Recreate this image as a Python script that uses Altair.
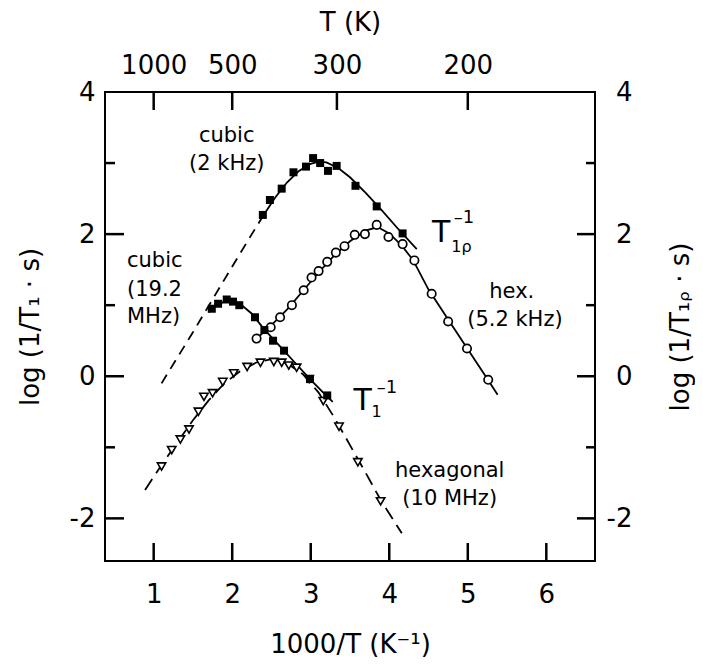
import altair as alt
import pandas as pd

# ---------------- data ----------------
# cubic phase, T1rho^-1 (2 kHz): filled squares
cub_rho_x = [2.39, 2.48, 2.63, 2.78, 2.94, 3.03, 3.12, 3.22, 3.33, 3.57, 3.84, 4.17]
cub_rho_y = [2.27, 2.48, 2.64, 2.87, 2.95, 3.07, 3.00, 2.89, 2.96, 2.68, 2.39, 2.01]
# hexagonal phase, T1rho^-1 (5.2 kHz): open circles
hex_rho_x = [2.31, 2.49, 2.61, 2.76, 2.91, 3.01, 3.10, 3.21, 3.32, 3.43, 3.56, 3.69,
             3.84, 3.99, 4.17, 4.32, 4.54, 4.75, 4.99, 5.26]
hex_rho_y = [0.53, 0.69, 0.83, 1.00, 1.21, 1.39, 1.48, 1.61, 1.74, 1.83, 1.99, 2.00,
             2.13, 1.96, 1.86, 1.63, 1.16, 0.77, 0.39, -0.05]
# cubic phase, T1^-1 (19.2 MHz): filled squares
cub_t1_x = [1.74, 1.82, 1.93, 2.01, 2.09, 2.29, 2.41, 2.52, 2.66, 2.99, 3.21]
cub_t1_y = [0.95, 1.02, 1.08, 1.05, 1.00, 0.83, 0.65, 0.50, 0.36, -0.04, -0.27]
# hexagonal phase, T1^-1 (10 MHz): open down-triangles
hex_t1_x = [1.10, 1.23, 1.34, 1.45, 1.57, 1.64, 1.75, 1.88, 2.02, 2.19, 2.36, 2.53,
            2.63, 2.72, 2.82, 2.98, 3.16, 3.36, 3.60, 3.89]
hex_t1_y = [-1.27, -1.04, -0.89, -0.75, -0.50, -0.29, -0.24, -0.08, 0.04, 0.13, 0.19, 0.20,
            0.19, 0.15, 0.12, -0.04, -0.35, -0.71, -1.21, -1.76]

# fitted curves
fit_cub_rho_dash_x = [1.10, 1.50, 1.90, 2.20, 2.40]
fit_cub_rho_dash_y = [-0.10, 0.62, 1.36, 1.91, 2.27]
fit_cub_rho_x = [2.40, 2.55, 2.70, 2.85, 3.00, 3.10, 3.20, 3.35, 3.50, 3.70, 3.90, 4.10, 4.35]
fit_cub_rho_y = [2.27, 2.52, 2.73, 2.89, 2.99, 3.02, 3.01, 2.93, 2.80, 2.58, 2.34, 2.09, 1.79]
fit_hex_rho_x = [2.33, 2.50, 2.70, 2.90, 3.10, 3.30, 3.50, 3.70, 3.85, 4.00, 4.15, 4.30,
                 4.50, 4.75, 5.00, 5.25, 5.38]
fit_hex_rho_y = [0.55, 0.72, 0.94, 1.20, 1.46, 1.70, 1.90, 2.05, 2.10, 2.01, 1.85, 1.64,
                 1.22, 0.80, 0.38, -0.04, -0.26]
fit_cub_t1_x = [1.70, 1.80, 1.90, 2.00, 2.10, 2.25, 2.40, 2.60, 2.80, 3.00, 3.15, 3.28]
fit_cub_t1_y = [0.90, 1.00, 1.05, 1.06, 1.02, 0.88, 0.67, 0.43, 0.19, -0.05, -0.22, -0.36]
fit_hex_t1_x = [0.89, 1.10, 1.30, 1.50, 1.70, 1.90, 2.10, 2.30, 2.50, 2.70, 2.90, 3.10,
                3.30, 3.50, 3.70, 3.90, 4.16]
fit_hex_t1_y = [-1.60, -1.25, -0.93, -0.62, -0.34, -0.10, 0.07, 0.19, 0.24, 0.18, 0.03, -0.23,
                -0.58, -0.97, -1.36, -1.76, -2.21]

# axes
x_ticks = [1, 2, 3, 4, 5, 6]
top_T = [1000, 500, 300, 200]
y_major = [-2, 0, 2]
y_minor = [-1, 1, 3]
y_labels = [-2, 0, 2, 4]

# annotations
ann_c_text = ["cubic", "(2 kHz)", "hex.", "(5.2 kHz)", "hexagonal", "(10 MHz)"]
ann_c_x = [1.93, 1.93, 5.56, 5.60, 4.77, 4.77]
ann_c_y = [3.38, 2.98, 1.19, 0.79, -1.33, -1.73]
ann_l_text = ["cubic", "(19.2", "MHz)"]
ann_l_x = [0.66, 0.66, 0.66]
ann_l_y = [1.62, 1.21, 0.84]
big_T_x = [4.66, 3.66]
big_T_y = [2.01, -0.35]
sup_text = ["\u20131", "\u20131"]
sup_x = [4.95, 3.97]
sup_y = [2.22, -0.17]
sub_text = ["1\u03c1", "1"]
sub_x = [4.92, 3.84]
sub_y = [1.82, -0.50]

# ---------------- chart ----------------
W, H = 490, 469
FONT = "DejaVu Sans"
XD = [0.38, 6.62]
YD = [-2.6, 4.0]
xs = alt.Scale(domain=XD, nice=False, zero=False)
ys = alt.Scale(domain=YD, nice=False, zero=False)


def frame(xv, yv, series):
    return pd.DataFrame({"x": xv, "y": yv, "s": series})


curves_solid = pd.concat([
    frame(fit_cub_rho_x, fit_cub_rho_y, "cub_rho"),
    frame(fit_hex_rho_x, fit_hex_rho_y, "hex_rho"),
    frame(fit_cub_t1_x, fit_cub_t1_y, "cub_t1"),
])
curve_dash1 = frame(fit_cub_rho_dash_x, fit_cub_rho_dash_y, "cub_rho_ext")
curve_dash2 = frame(fit_hex_t1_x, fit_hex_t1_y, "hex_t1")

common = dict(labelFont=FONT, labelFontSize=26, labelColor="black",
              titleFont=FONT, titleFontSize=26, titleFontWeight="normal",
              titleColor="black", domain=False, grid=False, ticks=False)
neg_expr = "datum.value < 0 ? '-' + (-datum.value) : '' + datum.value"

ax_bottom = alt.Axis(orient="bottom", values=x_ticks, labelPadding=20,
                     title="1000/T (K\u207b\u00b9)", titleX=W / 2, titleY=91,
                     titleBaseline="alphabetic", titleAlign="center",
                     labelExpr=neg_expr, **common)
ax_top = alt.Axis(orient="top", values=[1000.0 / t for t in top_T],
                  labelPadding=14, labelFlush=False,
                  labelExpr="'' + round(1000 / datum.value)",
                  title="T (K)", titleX=W / 2, titleY=-70, titleBaseline="middle",
                  titleAlign="center", **common)
ax_left = alt.Axis(orient="left", values=y_labels, labelPadding=10, labelFlush=False,
                   labelAlign="right", labelBaseline="middle",
                   title="log (1/T\u2081 \u00b7 s)", titleX=-75, titleY=H / 2,
                   titleAngle=270, titleBaseline="middle", titleAlign="center",
                   labelExpr=neg_expr, **common)
ax_right = alt.Axis(orient="right", values=y_labels, labelPadding=37, labelFlush=False,
                    labelAlign="right", labelBaseline="middle",
                    title="log (1/T\u2081\u1d68 \u00b7 s)", titleX=85, titleY=H / 2,
                    titleAngle=270, titleBaseline="middle", titleAlign="center",
                    labelExpr=neg_expr, **common)


def X(axis=None, f="x"):
    return alt.X(f"{f}:Q", scale=xs, axis=axis)


def Y(axis=None, f="y"):
    return alt.Y(f"{f}:Q", scale=ys, axis=axis)


# inward tick marks as short line segments (tick length given in pixels,
# converted to data units of the perpendicular axis)
ty = (YD[1] - YD[0]) / H
tx = (XD[1] - XD[0]) / W


def vticks(values, edge, length_px, sign, tag):
    rows = []
    for i, v in enumerate(values):
        rows.append({"x": v, "y": edge, "k": f"{tag}{i}"})
        rows.append({"x": v, "y": edge + sign * length_px * ty, "k": f"{tag}{i}"})
    return pd.DataFrame(rows)


def hticks(values, edge, length_px, sign, tag):
    rows = []
    for i, v in enumerate(values):
        rows.append({"x": edge, "y": v, "k": f"{tag}{i}"})
        rows.append({"x": edge + sign * length_px * tx, "y": v, "k": f"{tag}{i}"})
    return pd.DataFrame(rows)


def tick_layer(df, xaxis=None, yaxis=None):
    return alt.Chart(df).mark_line(color="black", strokeWidth=2.5).encode(
        x=X(xaxis), y=Y(yaxis), detail="k:N")


tk_bottom = tick_layer(vticks(x_ticks, YD[0], 18, 1, "b"), xaxis=ax_bottom)
tk_top = tick_layer(vticks([1000.0 / t for t in top_T], YD[1], 18, -1, "t"), xaxis=ax_top)
tk_left = tick_layer(pd.concat([hticks(y_major, XD[0], 19, 1, "lm"),
                                hticks(y_minor, XD[0], 10, 1, "ln")]), yaxis=ax_left)
tk_right = tick_layer(pd.concat([hticks(y_major, XD[1], 18, -1, "rm"),
                                 hticks(y_minor, XD[1], 9, -1, "rn")]), yaxis=ax_right)

lines_solid = alt.Chart(curves_solid).mark_line(color="black", strokeWidth=1.8).encode(
    x=X(), y=Y(), detail="s:N")
lines_d1 = alt.Chart(curve_dash1).mark_line(color="black", strokeWidth=1.8,
                                            strokeDash=[10, 7]).encode(x=X(), y=Y())
lines_d2 = alt.Chart(curve_dash2).mark_line(color="black", strokeWidth=1.8,
                                            strokeDash=[13, 7]).encode(x=X(), y=Y())

pts_circ = alt.Chart(frame(hex_rho_x, hex_rho_y, "a")).mark_point(
    shape="circle", size=70, filled=True, fill="white", stroke="black",
    strokeWidth=1.7, opacity=1).encode(x=X(), y=Y())
pts_tri = alt.Chart(frame(hex_t1_x, hex_t1_y, "b")).mark_point(
    shape="triangle-down", size=70, filled=True, fill="white", stroke="black",
    strokeWidth=1.6, opacity=1).encode(x=X(), y=Y())
pts_sq1 = alt.Chart(frame(cub_rho_x, cub_rho_y, "c")).mark_point(
    shape="square", size=64, filled=True, color="black", opacity=1).encode(x=X(), y=Y())
pts_sq2 = alt.Chart(frame(cub_t1_x, cub_t1_y, "d")).mark_point(
    shape="square", size=64, filled=True, color="black", opacity=1).encode(x=X(), y=Y())


def text_layer(txt, xv, yv, size, align="center"):
    df = pd.DataFrame({"t": txt, "x": xv, "y": yv})
    return alt.Chart(df).mark_text(font=FONT, fontSize=size, color="black",
                                   align=align, baseline="middle").encode(
        x=X(), y=Y(), text="t:N")


txt_c = text_layer(ann_c_text, ann_c_x, ann_c_y, 21)
txt_l = text_layer(ann_l_text, ann_l_x, ann_l_y, 21, align="left")
txt_T = text_layer(["T"] * len(big_T_x), big_T_x, big_T_y, 30)
txt_sup = text_layer(sup_text, sup_x, sup_y, 18)
txt_sub = text_layer(sub_text, sub_x, sub_y, 16)

chart = alt.layer(
    tk_bottom, tk_top, tk_left, tk_right,
    lines_solid, lines_d1, lines_d2,
    pts_circ, pts_tri, pts_sq1, pts_sq2,
    txt_c, txt_l, txt_T, txt_sup, txt_sub,
).resolve_axis(x="independent", y="independent").properties(
    width=W, height=H,
    padding={"left": 97, "top": 84, "right": 100, "bottom": 98},
    autosize=alt.AutoSizeParams(type="none"),
    background="white",
).configure_view(stroke="black", strokeWidth=2)

chart.save("out.html", embed_options={"renderer": "svg", "actions": False})
